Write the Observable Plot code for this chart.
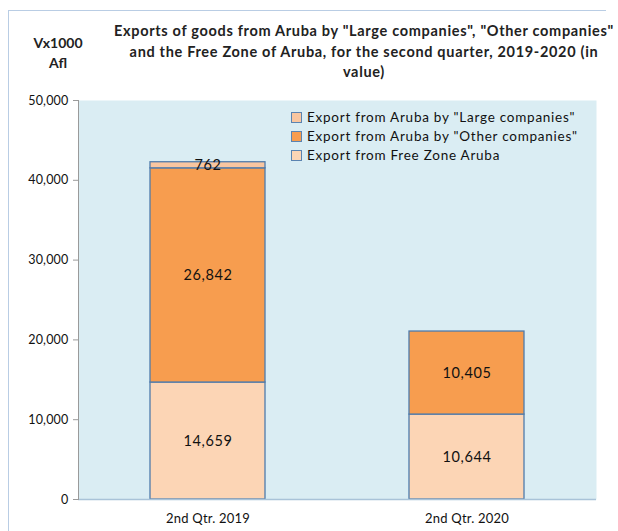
<!DOCTYPE html>
<html>
<head>
<meta charset="utf-8">
<script src="https://cdn.jsdelivr.net/npm/d3@7"></script>
<script src="https://cdn.jsdelivr.net/npm/@observablehq/plot@0.6"></script>
<style>
  html, body { margin: 0; padding: 0; background: #fff; }
  #wrap { position: relative; width: 618px; height: 531px; overflow: hidden; font-family: Lato, "Open Sans", sans-serif; }
  #chart { position: absolute; left: 0; top: 0; }
  #border { position: absolute; left: 8px; top: 10px; width: 597px; height: 530px; border-left: 1.5px solid #b9cde4; border-top: 1.5px solid #b9cde4; }
  #unit { position: absolute; left: 30px; top: 33px; width: 56px; text-align: center; font-weight: bold; font-size: 14px; line-height: 20px; color: #222; }
  #title { position: absolute; left: 104px; top: 21px; width: 520px; text-align: center; font-weight: bold; font-size: 14.5px; line-height: 20.5px; color: #222; }
  #title span { white-space: nowrap; }
  #legend { position: absolute; left: 291px; top: 108px; font-size: 13.5px; line-height: 19px; color: #111; letter-spacing: 0.75px; }
  .row { display: flex; align-items: center; white-space: nowrap; }
  .sw { width: 9px; height: 9px; border: 1px solid #5b84b1; margin-right: 5px; flex: none; }
</style>
</head>
<body>
<div id="wrap">
  <div id="chart"></div>
  <div id="border"></div>
  <div id="unit">Vx1000<br>Afl</div>
  <div id="title"></div>
  <div id="legend"></div>
</div>
<script>
// Categories
const quarters = ["2nd Qtr. 2019", "2nd Qtr. 2020"];
// Series (bottom to top in the stack)
const seriesNames = [
  "Export from Free Zone Aruba",
  "Export from Aruba by \"Other companies\"",
  "Export from Aruba by \"Large companies\""
];
// Legend order (as shown)
const legendOrder = [
  "Export from Aruba by \"Large companies\"",
  "Export from Aruba by \"Other companies\"",
  "Export from Free Zone Aruba"
];
const freeZone = [14659, 10644];
const otherCompanies = [26842, 10405];
const largeCompanies = [762, 0];
const seriesColors = ["#fcd5b5", "#f79d4f", "#f9c6a0"];
const yTicks = [0, 10000, 20000, 30000, 40000, 50000];
const titleLines = [
  "Exports of goods from Aruba by \"Large companies\", \"Other companies\"",
  "and the Free Zone of Aruba, for the second quarter, 2019-2020 (in",
  "value)"
];

const seriesValues = [freeZone, otherCompanies, largeCompanies];
const data = [];
seriesNames.forEach((s, si) => {
  quarters.forEach((q, qi) => data.push({quarter: q, series: s, value: seriesValues[si][qi]}));
});

const fmt = d3.format(",");

const chart = Plot.plot({
  width: 618,
  height: 531,
  marginLeft: 78,
  marginRight: 22,
  marginTop: 100,
  marginBottom: 32,
  style: {fontFamily: "Lato, 'Open Sans', sans-serif", fontSize: "13px", background: "transparent", color: "#111", letterSpacing: "0.2px"},
  x: {domain: quarters, paddingInner: 0.556, paddingOuter: 0.278, label: null},
  y: {domain: [0, 50000], label: null},
  color: {domain: seriesNames, range: seriesColors},
  marks: [
    Plot.frame({fill: "#daedf3", stroke: null}),
    Plot.barY(data, {
      x: "quarter", y: "value", fill: "series", order: seriesNames,
      stroke: "#4f7bab", strokeWidth: 1.3
    }),
    Plot.text(data, Plot.stackY({
      x: "quarter", y: "value", z: "series", order: seriesNames,
      text: d => d.value > 0 ? fmt(d.value) : "",
      fontSize: 14.5, fill: "#111", className: "seglabel"
    })),
    Plot.ruleY([0], {stroke: "#a9c3d8", strokeWidth: 1.5}),
    Plot.frame({anchor: "left", stroke: "#9a9a9a"}),
    Plot.axisY({ticks: yTicks, tickFormat: fmt, tickSize: 5, tickPadding: 5, stroke: "#9a9a9a", label: null, fontSize: 12.5}),
    Plot.axisX({tickSize: 0, tickPadding: 14, label: null})
  ]
});
document.getElementById("chart").appendChild(chart);
d3.select(chart).selectAll("g[aria-label=text] text").style("letter-spacing", "0.6px");

// Title, fitted to the reference line width
const title = document.getElementById("title");
titleLines.forEach((line, i) => {
  const s = document.createElement("span");
  s.textContent = line;
  title.appendChild(s);
  if (i < titleLines.length - 1) title.appendChild(document.createElement("br"));
});
const first = title.querySelector("span");
const w = first.getBoundingClientRect().width;
const ls = (500 - w) / titleLines[0].length;
title.style.letterSpacing = ls + "px";

const legend = document.getElementById("legend");
legendOrder.forEach(name => {
  const row = document.createElement("div");
  row.className = "row";
  const sw = document.createElement("span");
  sw.className = "sw";
  sw.style.background = seriesColors[seriesNames.indexOf(name)];
  const t = document.createElement("span");
  t.textContent = name;
  row.appendChild(sw);
  row.appendChild(t);
  legend.appendChild(row);
});
</script>
</body>
</html>
